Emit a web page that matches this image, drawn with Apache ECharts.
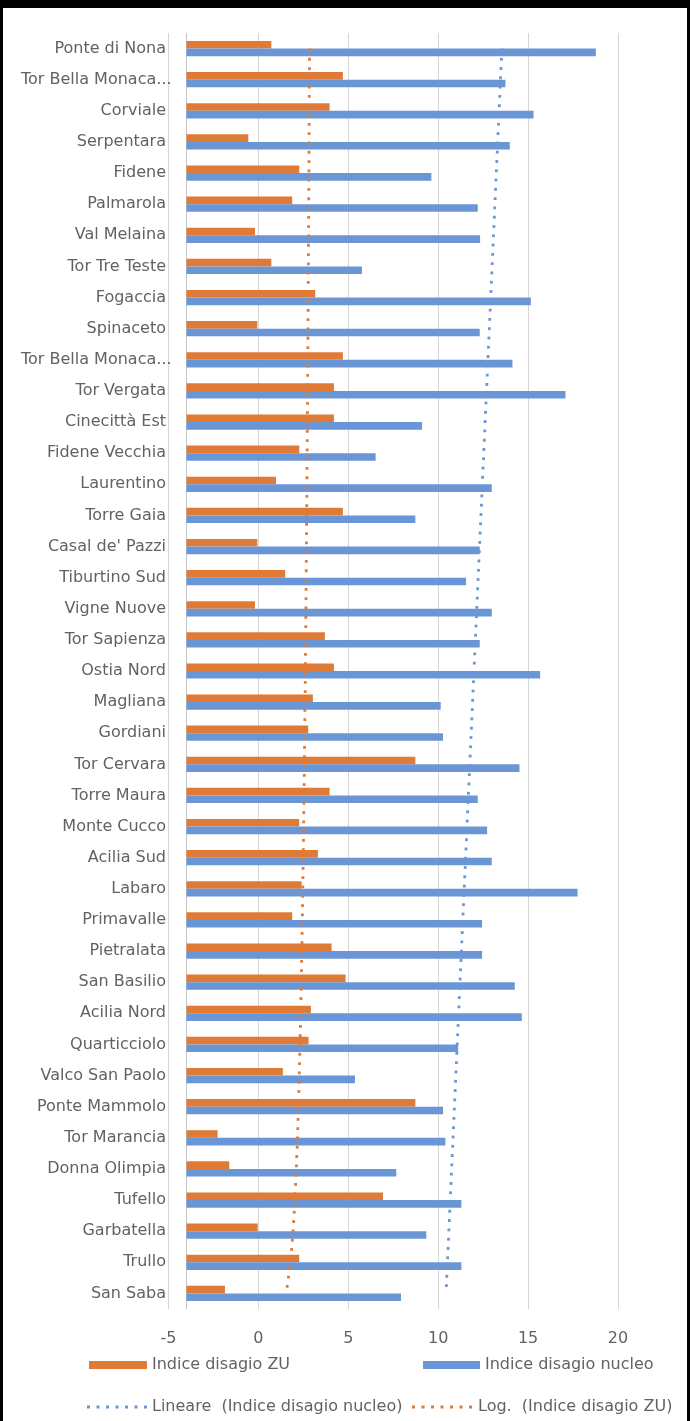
<!DOCTYPE html>
<html>
<head>
<meta charset="utf-8">
<script src="https://cdn.jsdelivr.net/npm/echarts@6/dist/echarts.min.js"></script>
<style>
  html, body { margin: 0; padding: 0; background: #ffffff; }
  #chart { position: absolute; left: 0; top: 0; width: 690px; height: 1421px; background: #ffffff; }
  #frame {
    position: absolute; left: 0; top: 0; width: 690px; height: 1421px;
    box-sizing: border-box; pointer-events: none;
    border-top: 8px solid #000; border-left: 3px solid #000; border-right: 3px solid #000;
  }
</style>
</head>
<body>
<div id="chart"></div>
<div id="frame"></div>
<script>
// Neighbourhoods, listed from the top of the chart to the bottom
const CATEGORIES = [
  'Ponte di Nona', 'Tor Bella Monaca...', 'Corviale', 'Serpentara', 'Fidene',
  'Palmarola', 'Val Melaina', 'Tor Tre Teste', 'Fogaccia', 'Spinaceto',
  'Tor Bella Monaca...', 'Tor Vergata', 'Cinecittà Est', 'Fidene Vecchia', 'Laurentino',
  'Torre Gaia', "Casal de' Pazzi", 'Tiburtino Sud', 'Vigne Nuove', 'Tor Sapienza',
  'Ostia Nord', 'Magliana', 'Gordiani', 'Tor Cervara', 'Torre Maura',
  'Monte Cucco', 'Acilia Sud', 'Labaro', 'Primavalle', 'Pietralata',
  'San Basilio', 'Acilia Nord', 'Quarticciolo', 'Valco San Paolo', 'Ponte Mammolo',
  'Tor Marancia', 'Donna Olimpia', 'Tufello', 'Garbatella', 'Trullo',
  'San Saba'
];

// Indice disagio ZU
const ZU = [
  0.72, 4.70, 3.96, -0.56, 2.27,
  1.88, -0.19, 0.72, 3.16, -0.06,
  4.70, 4.20, 4.20, 2.27, 0.98,
  4.70, -0.06, 1.49, -0.19, 3.70,
  4.20, 3.03, 2.77, 8.73, 3.96,
  2.27, 3.31, 2.40, 1.88, 4.07,
  4.85, 2.92, 2.79, 1.36, 8.73,
  -2.27, -1.62, 6.93, -0.04, 2.27,
  -1.86
];

// Indice disagio nucleo
const NUCLEO = [
  18.77, 13.74, 15.30, 13.98, 9.62,
  12.20, 12.33, 5.76, 15.15, 12.31,
  14.13, 17.08, 9.10, 6.52, 12.98,
  8.73, 12.31, 11.55, 12.98, 12.31,
  15.67, 10.14, 10.27, 14.52, 12.20,
  12.72, 12.98, 17.75, 12.44, 12.44,
  14.26, 14.65, 11.11, 5.37, 10.27,
  10.40, 7.67, 11.29, 9.34, 11.29,
  7.93
];

// Value axis range and the value where the category axis crosses it
const AXIS_MIN = -5;
const AXIS_MAX = 20;
const AXIS_STEP = 5;
const CROSS_AT = -4;

const SERIES_NAMES = ['Indice disagio ZU', 'Indice disagio nucleo'];
const TREND_NAMES = ['Lineare  (Indice disagio nucleo)', 'Log.  (Indice disagio ZU)'];

const ORANGE = '#DF7B37';
const BLUE = '#6A96D6';
const TEXT = '#626262';
const FONT = 'DejaVu Sans';

// Seven square dots, used as the legend sample of a dotted trendline
const DOTS_ICON = 'path://' + [0, 1, 2, 3, 4, 5, 6]
  .map(k => 'M' + (k * 9.5) + ',0h3v3h-3z').join(' ');

// Trendlines number the categories from the bottom (San Saba = 1)
const n = CATEGORIES.length;
const xs = CATEGORIES.map((_, i) => n - i);

function leastSquares(u, v) {
  const m = u.length;
  const mu = u.reduce((s, a) => s + a, 0) / m;
  const mv = v.reduce((s, a) => s + a, 0) / m;
  let sxy = 0, sxx = 0;
  for (let k = 0; k < m; k++) {
    sxy += (u[k] - mu) * (v[k] - mv);
    sxx += (u[k] - mu) * (u[k] - mu);
  }
  const slope = sxy / sxx;
  return { slope, intercept: mv - slope * mu };
}

const lin = leastSquares(xs, NUCLEO);
const linTrend = xs.map(x => lin.intercept + lin.slope * x);
const lnXs = xs.map(x => Math.log(x));
const lg = leastSquares(lnXs, ZU);
const logTrend = lnXs.map(l => lg.intercept + lg.slope * l);

// Bars start at the category axis crossing; ZU sits in the upper half of each band
function barRenderer(color, upper) {
  return function (params, api) {
    const idx = api.value(1);
    const start = api.coord([CROSS_AT, idx]);
    const end = api.coord([api.value(0), idx]);
    const band = api.size([0, 1])[1];
    const h = band * 0.245;
    return {
      type: 'rect',
      shape: { x: start[0], y: upper ? start[1] - h : start[1], width: end[0] - start[0], height: h },
      style: { fill: color }
    };
  };
}

const chart = echarts.init(document.getElementById('chart'), null, { renderer: 'canvas' });

const legendText = { color: TEXT, fontSize: 16, fontFamily: FONT, lineHeight: 18 };

chart.setOption({
  animation: false,
  backgroundColor: '#ffffff',
  grid: { left: 168.5, right: 72, top: 33, bottom: 112, containLabel: false, outerBoundsMode: 'none' },
  legend: [
    { data: [{ name: SERIES_NAMES[0], icon: 'rect' }], left: 89, top: 1356, itemWidth: 58, itemHeight: 8,
      padding: 0, textStyle: legendText, selectedMode: false },
    { data: [{ name: SERIES_NAMES[1], icon: 'rect' }], left: 423, top: 1356, itemWidth: 57, itemHeight: 8,
      padding: 0, textStyle: legendText, selectedMode: false },
    { data: [{ name: TREND_NAMES[0], icon: DOTS_ICON }], left: 87, top: 1398, itemWidth: 60, itemHeight: 3,
      padding: 0, textStyle: legendText, selectedMode: false },
    { data: [{ name: TREND_NAMES[1], icon: DOTS_ICON }], left: 412, top: 1398, itemWidth: 62, itemHeight: 3,
      padding: 0, textStyle: legendText, selectedMode: false }
  ],
  xAxis: {
    type: 'value',
    min: AXIS_MIN,
    max: AXIS_MAX,
    interval: AXIS_STEP,
    position: 'bottom',
    axisLine: { show: false },
    axisTick: { show: false },
    splitLine: { show: true, lineStyle: { color: '#D6D6D6', width: 1 } },
    axisLabel: { margin: 22, fontSize: 16, fontFamily: FONT, color: TEXT }
  },
  yAxis: {
    type: 'category',
    inverse: true,
    data: CATEGORIES,
    boundaryGap: true,
    axisLine: { show: false },
    axisTick: { show: false },
    splitLine: { show: false },
    axisLabel: {
      interval: 0,
      hideOverlap: false,
      margin: 2.5,
      align: 'right',
      fontSize: 16,
      fontFamily: FONT,
      color: TEXT,
      formatter: function (value) {
        return value.endsWith('...') ? '{w|' + value + '}' : value;
      },
      rich: {
        w: { width: 145, align: 'left', fontSize: 16, fontFamily: FONT, color: TEXT }
      }
    }
  },
  series: [
    {
      name: SERIES_NAMES[0],
      type: 'custom',
      itemStyle: { color: ORANGE },
      encode: { x: 0, y: 1 },
      renderItem: barRenderer(ORANGE, true),
      data: ZU.map((v, i) => [v, i]),
      z: 2
    },
    {
      name: SERIES_NAMES[1],
      type: 'custom',
      itemStyle: { color: BLUE },
      encode: { x: 0, y: 1 },
      renderItem: barRenderer(BLUE, false),
      data: NUCLEO.map((v, i) => [v, i]),
      z: 2
    },
    {
      name: TREND_NAMES[0],
      type: 'line',
      symbol: 'none',
      encode: { x: 0, y: 1 },
      data: linTrend.map((v, i) => [v, i]),
      itemStyle: { color: BLUE },
      lineStyle: { color: BLUE, width: 2.8, type: [2.8, 6.5], cap: 'butt' },
      z: 5,
      markLine: {
        silent: true,
        symbol: 'none',
        label: { show: false },
        lineStyle: { color: '#C4C4C4', type: 'solid', width: 1 },
        data: [{ xAxis: CROSS_AT }],
        z: 1
      }
    },
    {
      name: TREND_NAMES[1],
      type: 'line',
      symbol: 'none',
      encode: { x: 0, y: 1 },
      data: logTrend.map((v, i) => [v, i]),
      itemStyle: { color: ORANGE },
      lineStyle: { color: ORANGE, width: 2.8, type: [2.8, 6.5], cap: 'butt' },
      z: 5
    }
  ]
});
</script>
</body>
</html>
